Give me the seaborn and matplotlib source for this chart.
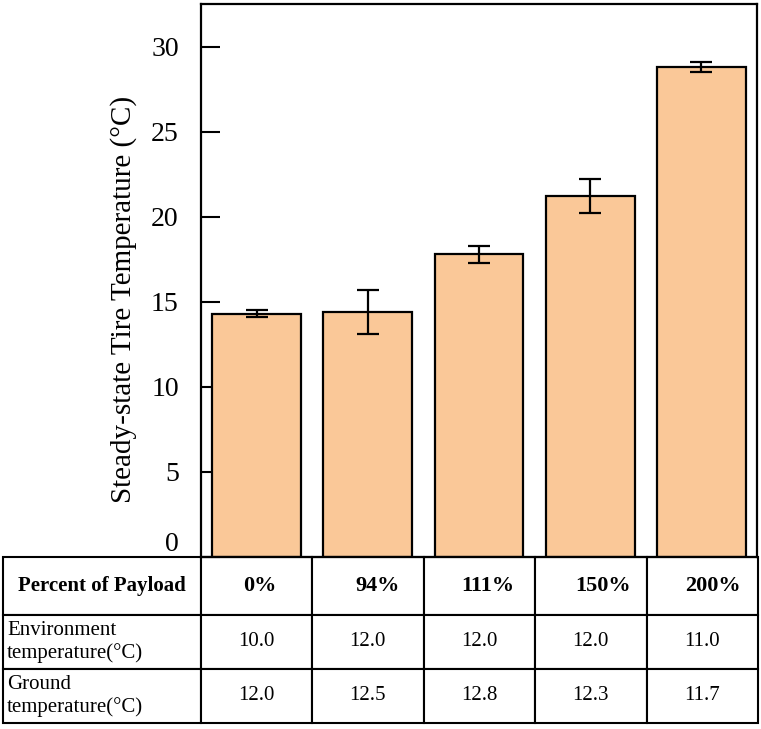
import matplotlib
matplotlib.use("Agg")
import matplotlib.pyplot as plt
import matplotlib.transforms as mtransforms
import seaborn as sns
import pandas as pd
import numpy as np

payload = ["0%", "94%", "111%", "150%", "200%"]
tire_temp = [14.3, 14.4, 17.8, 21.2, 28.8]
tire_err = [0.2, 1.3, 0.5, 1.0, 0.3]
env_temp = ["10.0", "12.0", "12.0", "12.0", "11.0"]
ground_temp = ["12.0", "12.5", "12.8", "12.3", "11.7"]
row_labels = ["Percent of Payload", "Environment\ntemperature(°C)", "Ground\ntemperature(°C)"]

sns.set_theme(style="white")
plt.rcParams['font.family'] = ['Liberation Serif', 'DejaVu Serif']
plt.rcParams['text.color'] = 'black'
plt.rcParams['axes.labelcolor'] = 'black'
plt.rcParams['xtick.color'] = 'black'
plt.rcParams['ytick.color'] = 'black'

fig = plt.figure(figsize=(7.61, 7.29), dpi=100)
W, H = 761, 729
ax = fig.add_axes([201 / W, (H - 557) / H, 556 / W, 553 / H])

df = pd.DataFrame({"payload": payload, "temp": tire_temp})
sns.barplot(data=df, x="payload", y="temp", color="#FAC898", saturation=1,
            edgecolor="black", linewidth=1.6, width=0.8, errorbar=None, ax=ax)
ax.errorbar(x=np.arange(len(payload)), y=tire_temp, yerr=tire_err, fmt="none",
            ecolor="black", elinewidth=1.6, capsize=8, capthick=1.6, zorder=3)

ax.set_xlim(-0.5, len(payload) - 0.5)
ax.set_ylim(0, 32.5)
ax.set_yticks([0, 5, 10, 15, 20, 25, 30])
ax.set_xlabel("")
ax.set_xticklabels([])
ax.set_ylabel("Steady-state Tire Temperature (°C)", fontsize=21)
ax.yaxis.set_label_coords(-0.115, 0.465)
ax.tick_params(axis="y", direction="in", length=14, width=1.5, labelsize=20, pad=16, left=True)
ax.tick_params(axis="x", direction="in", length=12, width=1.5, bottom=True, labelbottom=False)
for s in ax.spines.values():
    s.set_visible(True)
    s.set_color("black")
    s.set_linewidth(1.6)
ax.get_yticklabels()[0].set_va("bottom")

cell_text = [["Percent of Payload"] + payload,
             [row_labels[1]] + env_temp,
             [row_labels[2]] + ground_temp]
first_w = 197 / 556
other_w = 111.2 / 556
tbl = ax.table(cellText=cell_text, cellLoc="center",
               colWidths=[first_w] + [other_w] * len(payload),
               bbox=[(3 - 201) / 556, -166 / 553, 755 / 556, 166 / 553])
tbl.auto_set_font_size(False)
tbl.set_fontsize(15)
row_h = [58, 54, 54]
head_dx = [0, 3.5, 10, 9, 12, 11]
for (r, c), cell in tbl.get_celld().items():
    cell.set_linewidth(1.5)
    cell.set_edgecolor("black")
    cell.set_height(row_h[r] / 553)
    t = cell.get_text()
    t.set_color("black")
    if r == 0:
        t.set_fontweight("bold")
        if c > 0:
            t.set_fontsize(16)
            t.set_transform(mtransforms.ScaledTranslation(head_dx[c] / 100, 0, fig.dpi_scale_trans))
    elif c == 0:
        cell._loc = "left"
        cell.PAD = 0.02
        t.set_ha("left")
tbl.set_clip_on(False)

fig.savefig("out.png", dpi=100)
